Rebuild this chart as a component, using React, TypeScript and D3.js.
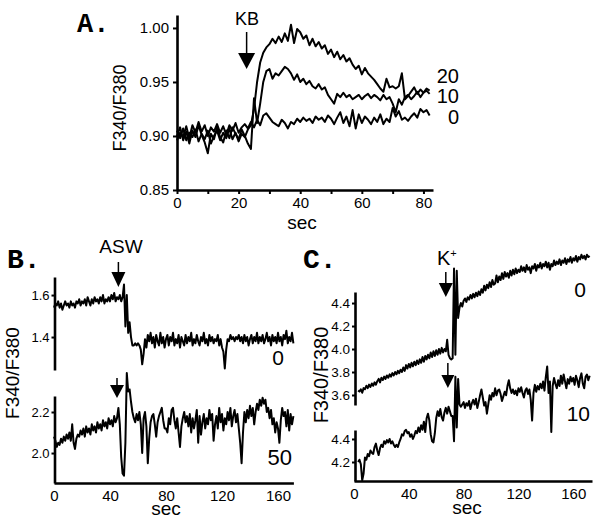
import React, { useEffect, useRef } from 'react';
import * as d3 from 'd3';

const FONT = 'Liberation Sans, Arial, Helvetica, sans-serif';
const MONO = 'Liberation Mono, Courier New, monospace';

// Panel A: KB responses, one sample per second starting at 0 s
const kb20 = [
  0.905, 0.898, 0.907, 0.896, 0.903, 0.899, 0.906, 0.895, 0.902, 0.897,
  0.905, 0.893, 0.900, 0.905, 0.896, 0.903, 0.898, 0.907, 0.897, 0.903,
  0.895, 0.902, 0.899, 0.906, 0.910, 0.925, 0.950, 0.968, 0.977, 0.982,
  0.985, 0.990, 0.986, 0.992, 0.987, 0.995, 0.988, 1.003, 0.986, 0.999,
  0.996, 0.990, 0.993, 0.984, 0.990, 0.983, 0.987, 0.981, 0.984, 0.976,
  0.980, 0.973, 0.978, 0.971, 0.975, 0.969, 0.972, 0.966, 0.962, 0.965,
  0.957, 0.963, 0.958, 0.955, 0.952, 0.948, 0.944, 0.941, 0.953, 0.945,
  0.946, 0.944, 0.946, 0.958, 0.934, 0.937, 0.941, 0.945, 0.939, 0.943,
  0.940, 0.942, 0.939,
];
const kb10 = [
  0.900, 0.908, 0.896, 0.904, 0.893, 0.905, 0.899, 0.910, 0.901, 0.894,
  0.884, 0.902, 0.897, 0.908, 0.899, 0.894, 0.905, 0.898, 0.908, 0.902,
  0.897, 0.906, 0.900, 0.893, 0.888, 0.935, 0.912, 0.930, 0.950, 0.960,
  0.962, 0.953, 0.958, 0.956, 0.960, 0.964, 0.962, 0.958, 0.952, 0.957,
  0.950, 0.953, 0.948, 0.951, 0.946, 0.944, 0.948, 0.943, 0.945, 0.938,
  0.934, 0.930, 0.939, 0.936, 0.940, 0.936, 0.938, 0.934, 0.936, 0.938,
  0.934, 0.937, 0.939, 0.935, 0.938, 0.936, 0.933, 0.938, 0.934, 0.936,
  0.930, 0.922, 0.934, 0.929, 0.936, 0.938, 0.934, 0.937, 0.941, 0.936,
  0.940, 0.944, 0.942,
];
const kb0 = [
  0.896, 0.903, 0.899, 0.909, 0.898, 0.910, 0.903, 0.913, 0.904, 0.910,
  0.900, 0.908, 0.904, 0.911, 0.903, 0.909, 0.901, 0.910, 0.905, 0.912,
  0.903, 0.908, 0.911, 0.907, 0.913, 0.908, 0.915, 0.910, 0.919, 0.921,
  0.917, 0.913, 0.911, 0.909, 0.915, 0.912, 0.907, 0.913, 0.911, 0.916,
  0.913, 0.917, 0.914, 0.916, 0.912, 0.918, 0.915, 0.917, 0.913, 0.919,
  0.916, 0.911, 0.917, 0.922, 0.912, 0.918, 0.909, 0.924, 0.907, 0.920,
  0.912, 0.918, 0.915, 0.911, 0.917, 0.913, 0.920, 0.911, 0.916, 0.913,
  0.926, 0.918, 0.923, 0.915, 0.917, 0.914, 0.918, 0.921, 0.917, 0.925,
  0.922, 0.924, 0.919,
];

// Panel B: ASW, one sample per second from 0 s
const asw0 = [
  1.54, 1.56, 1.55, 1.57, 1.54, 1.56, 1.53, 1.55, 1.57, 1.55,
  1.56, 1.54, 1.57, 1.55, 1.56, 1.54, 1.57, 1.56, 1.58, 1.55,
  1.57, 1.56, 1.58, 1.55, 1.59, 1.57, 1.55, 1.58, 1.56, 1.59,
  1.57, 1.58, 1.56, 1.59, 1.57, 1.60, 1.56, 1.58, 1.57, 1.59,
  1.57, 1.60, 1.58, 1.61, 1.57, 1.59, 1.58, 1.60, 1.57, 1.59,
  1.65, 1.45, 1.60, 1.42, 1.47, 1.40, 1.36, 1.36, 1.37, 1.36,
  1.37, 1.36, 1.34, 1.27, 1.32, 1.39, 1.35, 1.41, 1.38, 1.42,
  1.37, 1.40, 1.35, 1.41, 1.38, 1.36, 1.42, 1.37, 1.40, 1.35,
  1.39, 1.41, 1.36, 1.40, 1.38, 1.42, 1.36, 1.39, 1.37, 1.41,
  1.35, 1.40, 1.38, 1.36, 1.41, 1.37, 1.40, 1.38, 1.42, 1.36,
  1.39, 1.37, 1.41, 1.38, 1.36, 1.40, 1.38, 1.42, 1.37, 1.39,
  1.36, 1.41, 1.38, 1.40, 1.37, 1.39, 1.38, 1.41, 1.36, 1.39,
  1.35, 1.33, 1.25, 1.34, 1.39, 1.38, 1.41, 1.39, 1.40, 1.38,
  1.40, 1.39, 1.41, 1.38, 1.40, 1.37, 1.41, 1.38, 1.40, 1.36,
  1.39, 1.41, 1.37, 1.40, 1.38, 1.42, 1.37, 1.40, 1.38, 1.41,
  1.37, 1.39, 1.42, 1.38, 1.40, 1.36, 1.41, 1.38, 1.40, 1.37,
  1.42, 1.38, 1.40, 1.36, 1.41, 1.39, 1.43, 1.37, 1.40, 1.38,
  1.42, 1.37,
];
const asw50 = [
  2.08, 2.06, 2.03, 2.05, 2.04, 2.07, 2.05, 2.08, 2.06, 2.09,
  2.07, 2.10, 2.06, 2.14, 2.05, 2.02, 2.07, 2.09, 2.08, 2.11,
  2.09, 2.12, 2.08, 2.13, 2.10, 2.12, 2.09, 2.14, 2.11, 2.13,
  2.10, 2.15, 2.12, 2.14, 2.11, 2.16, 2.13, 2.15, 2.12, 2.17,
  2.14, 2.16, 2.13, 2.18, 2.15, 2.17, 2.22, 2.14, 1.98, 1.90,
  1.89, 2.05, 2.39, 2.30, 2.31, 2.25, 2.20, 2.17, 2.15, 2.19,
  2.16, 2.20, 2.14, 2.00, 2.17, 2.20, 2.13, 1.95, 2.07, 2.15,
  2.18, 2.19, 2.14, 2.08, 2.15, 2.18, 2.20, 2.22, 2.16, 2.12,
  2.12, 2.10, 2.17, 2.14, 2.21, 2.22, 2.16, 2.12, 2.17, 2.10,
  2.03, 2.13, 2.17, 2.20, 2.15, 2.18, 2.13, 2.19, 2.10, 2.17,
  2.12, 2.16, 2.21, 2.05, 2.18, 2.09, 2.15, 2.19, 2.12, 2.17,
  2.14, 2.21, 2.16, 2.19, 2.06, 2.14, 2.18, 2.12, 2.22, 2.15,
  2.19, 2.11, 2.17, 2.14, 2.20, 2.16, 2.22, 2.13, 2.18, 2.21,
  2.15, 2.19, 2.12, 2.05, 1.95, 2.10, 2.20, 2.15, 2.21, 2.17,
  2.23, 2.18, 2.22, 2.14, 2.20, 2.24, 2.21, 2.26, 2.23, 2.27,
  2.24, 2.26, 2.20, 2.22, 2.17, 2.21, 2.14, 2.17, 2.10, 2.15,
  2.12, 2.05, 2.16, 2.22, 2.18, 2.20, 2.13, 2.21, 2.11, 2.19,
  2.14, 2.18,
];

// Panel C: K+, one sample per second from 3 s
const kStart = 3;
const k0 = [
  3.64, 3.63, 3.65, 3.62, 3.66, 3.65, 3.68, 3.66, 3.69, 3.67,
  3.70, 3.68, 3.71, 3.69, 3.72, 3.74, 3.71, 3.75, 3.73, 3.76,
  3.74, 3.77, 3.75, 3.78, 3.76, 3.79, 3.77, 3.80, 3.78, 3.81,
  3.79, 3.82, 3.80, 3.84, 3.81, 3.86, 3.83, 3.87, 3.84, 3.88,
  3.85, 3.89, 3.86, 3.90, 3.87, 3.91, 3.88, 3.93, 3.89, 3.94,
  3.91, 3.95, 3.92, 3.97, 3.93, 3.98, 3.94, 3.99, 3.95, 4.00,
  3.96, 4.01, 3.97, 4.00, 3.98, 4.08, 3.95, 3.92, 3.91, 3.92,
  4.70, 3.95, 4.68, 4.27, 4.36, 4.40, 4.37, 4.42, 4.44, 4.41,
  4.45, 4.43, 4.47, 4.44, 4.48, 4.45, 4.49, 4.46, 4.50, 4.47,
  4.52, 4.49, 4.55, 4.51, 4.56, 4.53, 4.58, 4.54, 4.60, 4.56,
  4.57, 4.64, 4.58, 4.63, 4.60, 4.66, 4.61, 4.67, 4.63, 4.66,
  4.62, 4.68, 4.64, 4.69, 4.65, 4.70, 4.66, 4.69, 4.67, 4.72,
  4.68, 4.71, 4.67, 4.73, 4.69, 4.71, 4.66, 4.72, 4.70, 4.74,
  4.68, 4.73, 4.71, 4.75, 4.70, 4.74, 4.72, 4.76, 4.71, 4.75,
  4.69, 4.74, 4.72, 4.77, 4.73, 4.76, 4.74, 4.78, 4.73, 4.77,
  4.75, 4.79, 4.74, 4.78, 4.76, 4.80, 4.75, 4.79, 4.77, 4.81,
  4.76, 4.80, 4.78, 4.82, 4.79, 4.81, 4.78, 4.82, 4.80, 4.81,
];
const k10 = [
  4.20, 4.22, 4.18, 4.04, 4.10, 4.24, 4.22, 4.27, 4.25, 4.30,
  4.28, 4.27, 4.33, 4.36, 4.30, 4.26, 4.32, 4.35, 4.33, 4.38,
  4.36, 4.39, 4.37, 4.40, 4.36, 4.38, 4.35, 4.33, 4.35, 4.33,
  4.37, 4.40, 4.44, 4.43, 4.47, 4.48, 4.45, 4.46, 4.42, 4.44,
  4.40, 4.43, 4.47, 4.45, 4.50, 4.46, 4.52, 4.48, 4.55, 4.46,
  4.58, 4.62, 4.56, 4.44, 4.38, 4.37, 4.45, 4.58, 4.64, 4.60,
  4.66, 4.59, 4.56, 4.63, 4.67, 4.62, 4.68, 4.64, 4.60, 4.60,
  4.38, 4.94, 4.50, 4.92, 4.70, 4.68, 4.70, 4.72, 4.67, 4.71,
  4.69, 4.73, 4.66, 4.71, 4.74, 4.70, 4.75, 4.67, 4.72, 4.78,
  4.83, 4.76, 4.69, 4.72, 4.62, 4.70, 4.78, 4.74, 4.80, 4.77,
  4.84, 4.78, 4.82, 4.83, 4.79, 4.73, 4.77, 4.81, 4.78, 4.86,
  4.91, 4.84, 4.80, 4.83, 4.79, 4.82, 4.78, 4.84, 4.81, 4.85,
  4.80, 4.76, 4.82, 4.84, 4.79, 4.83, 4.74, 4.56, 4.80, 4.87,
  4.81, 4.86, 4.83, 4.88, 4.84, 4.90, 4.82, 4.94, 5.03, 4.80,
  4.90, 4.46, 4.86, 4.93, 4.88, 4.84, 4.91, 4.86, 4.95, 4.88,
  4.96, 4.90, 4.84, 4.92, 4.88, 4.94, 4.90, 4.93, 4.87, 4.95,
  4.91, 4.85, 4.93, 4.97, 4.88, 4.84, 4.94, 4.96, 4.91, 4.95,
];

// tick values
const aTicksY = [0.85, 0.9, 0.95, 1.0];
const aTicksX = [0, 10, 20, 30, 40, 50, 60, 70, 80];
const bTicksTop = [1.4, 1.6];
const bTicksBot = [2.0, 2.2];
const cTicksTop = [3.6, 3.8, 4.0, 4.2, 4.4];
const cTicksBot = [4.2, 4.4];
const secTicks = [0, 40, 80, 120, 160];

export default function App() {
  const svgRef = useRef<SVGSVGElement>(null);

  useEffect(() => {
    const svg = d3.select(svgRef.current);
    svg.selectAll('*').remove();

    // scales
    const xA = d3.scaleLinear().domain([0, 83.1]).range([177, 433]);
    const yA = d3.scaleLinear().domain([0.85, 1.012]).range([190, 15]);
    const xB = d3.scaleLinear().domain([0, 171]).range([54, 293.4]);
    const yB0 = d3.scaleLinear().domain([1.243, 1.686]).range([370, 277]);
    const yB50 = d3.scaleLinear().domain([1.854, 2.278]).range([483, 396]);
    const xC = d3.scaleLinear().domain([0, 173.7]).range([354, 592]);
    const yC0 = d3.scaleLinear().domain([3.513, 4.496]).range([405, 292]);
    const yC10 = d3.scaleLinear().domain([4.035, 4.478]).range([481, 430]);

    const styleAxis = (g: any, size: number) => {
      g.attr('font-family', FONT).attr('font-size', size);
      g.select('.domain').attr('stroke', '#000').attr('stroke-width', 2.6);
      g.selectAll('.tick line').attr('stroke', '#000').attr('stroke-width', 2);
      g.selectAll('.tick text').attr('fill', '#000');
    };

    // axes, panel A
    svg.append('g')
      .attr('transform', 'translate(177,0)')
      .call(d3.axisLeft(yA).tickValues(aTicksY).tickFormat(d3.format('.2f')).tickSize(4).tickSizeOuter(0).tickPadding(4))
      .call(g => styleAxis(g, 15));
    svg.append('g')
      .attr('transform', 'translate(0,190)')
      .call(d3.axisBottom(xA).tickValues(aTicksX)
        .tickFormat((d: any) => (d % 20 === 0 ? String(d) : ''))
        .tickSize(4).tickSizeOuter(0).tickPadding(3))
      .call(g => styleAxis(g, 15));

    // axes, panel B
    svg.append('g')
      .attr('transform', 'translate(54.5,0)')
      .call(d3.axisLeft(yB0).tickValues(bTicksTop).tickFormat(d3.format('.1f')).tickSize(3).tickSizeOuter(0).tickPadding(2))
      .call(g => styleAxis(g, 13));
    svg.append('g')
      .attr('transform', 'translate(54.5,0)')
      .call(d3.axisLeft(yB50).tickValues(bTicksBot).tickFormat(d3.format('.1f')).tickSize(3).tickSizeOuter(0).tickPadding(2))
      .call(g => styleAxis(g, 13));
    svg.append('g')
      .attr('transform', 'translate(0,483)')
      .call(d3.axisBottom(xB).tickValues(secTicks).tickFormat(d3.format('d')).tickSize(0).tickSizeOuter(0).tickPadding(7))
      .call(g => styleAxis(g, 15));

    // axes, panel C
    svg.append('g')
      .attr('transform', 'translate(355,0)')
      .call(d3.axisLeft(yC0).tickValues(cTicksTop).tickFormat(d3.format('.1f')).tickSize(3).tickSizeOuter(0).tickPadding(2))
      .call(g => styleAxis(g, 13.5));
    svg.append('g')
      .attr('transform', 'translate(355,0)')
      .call(d3.axisLeft(yC10).tickValues(cTicksBot).tickFormat(d3.format('.1f')).tickSize(3).tickSizeOuter(0).tickPadding(2))
      .call(g => styleAxis(g, 13.5));
    svg.append('g')
      .attr('transform', 'translate(0,481)')
      .call(d3.axisBottom(xC).tickValues(secTicks).tickFormat(d3.format('d')).tickSize(0).tickSizeOuter(0).tickPadding(7))
      .call(g => styleAxis(g, 15));

    // traces
    const trace = (vals: number[], t0: number, x: any, y: any, w: number) => {
      const line = d3.line<number>().x((_, i) => x(t0 + i)).y(d => y(d));
      svg.append('path')
        .datum(vals)
        .attr('fill', 'none')
        .attr('stroke', '#000')
        .attr('stroke-width', w)
        .attr('stroke-linejoin', 'round')
        .attr('d', line);
    };
    trace(kb0, 0, xA, yA, 2);
    trace(kb10, 0, xA, yA, 2);
    trace(kb20, 0, xA, yA, 2);
    trace(asw0, 0, xB, yB0, 2);
    trace(asw50, 0, xB, yB50, 2);
    trace(k0, kStart, xC, yC0, 2);
    trace(k10, kStart, xC, yC10, 2);

    // stimulus arrows
    const arrow = (cx: number, y1: number, y2: number, head: number, half: number) => {
      svg.append('line')
        .attr('x1', cx).attr('x2', cx)
        .attr('y1', y1).attr('y2', y2 - head + 1)
        .attr('stroke', '#000').attr('stroke-width', 1.5);
      svg.append('path')
        .attr('d', `M${cx - half},${y2 - head}L${cx + half},${y2 - head}L${cx},${y2}Z`)
        .attr('fill', '#000');
    };
    arrow(xA(22.6), 32, 69, 16, 8.5);
    arrow(xB(46), 262, 287, 15, 7);
    arrow(xB(45), 378, 398, 13, 7);
    arrow(xC(67), 272, 297, 14, 7);
    arrow(xC(68.5), 363, 388, 13, 6.5);

    // text
    const text = (s: string, x: number, y: number, size: number, anchor = 'start', family = FONT, weight = 'normal') =>
      svg.append('text')
        .attr('x', x).attr('y', y)
        .attr('font-size', size)
        .attr('font-family', family)
        .attr('font-weight', weight)
        .attr('text-anchor', anchor)
        .attr('fill', '#000')
        .text(s);
    const vlabel = (s: string, x: number, y: number, size: number) =>
      svg.append('text')
        .attr('transform', `translate(${x},${y}) rotate(-90)`)
        .attr('font-size', size)
        .attr('font-family', FONT)
        .attr('text-anchor', 'middle')
        .attr('fill', '#000')
        .text(s);

    // panel A
    text('A.', 77, 32, 27, 'start', MONO, 'bold');
    text('KB', 247, 25, 18, 'middle');
    vlabel('F340/F380', 126, 108, 18);
    text('20', 459, 83, 20, 'end');
    text('10', 459, 103, 20, 'end');
    text('0', 459, 124, 20, 'end');
    text('sec', 302, 229, 19, 'middle');

    // panel B
    text('B.', 7, 268, 28, 'start', MONO, 'bold');
    text('ASW', 121, 253, 19, 'middle');
    vlabel('F340/F380', 19, 373, 19);
    text('0', 284, 365, 21, 'end');
    text('50', 292, 465, 22, 'end');
    text('sec', 166, 515, 19, 'middle');

    // panel C
    text('C.', 303, 268, 28, 'start', MONO, 'bold');
    const k = text('K', 437, 265, 20);
    k.append('tspan').attr('font-size', 11).attr('dy', -8).text('+');
    vlabel('F340/F380', 328, 375, 20);
    text('0', 586, 297, 21, 'end');
    text('10', 590, 421, 21, 'end');
    text('sec', 467, 514, 19, 'middle');
  }, []);

  return (
    <svg
      ref={svgRef}
      width={593}
      height={519}
      style={{ position: 'absolute', left: 0, top: 0, background: '#fff' }}
    />
  );
}
